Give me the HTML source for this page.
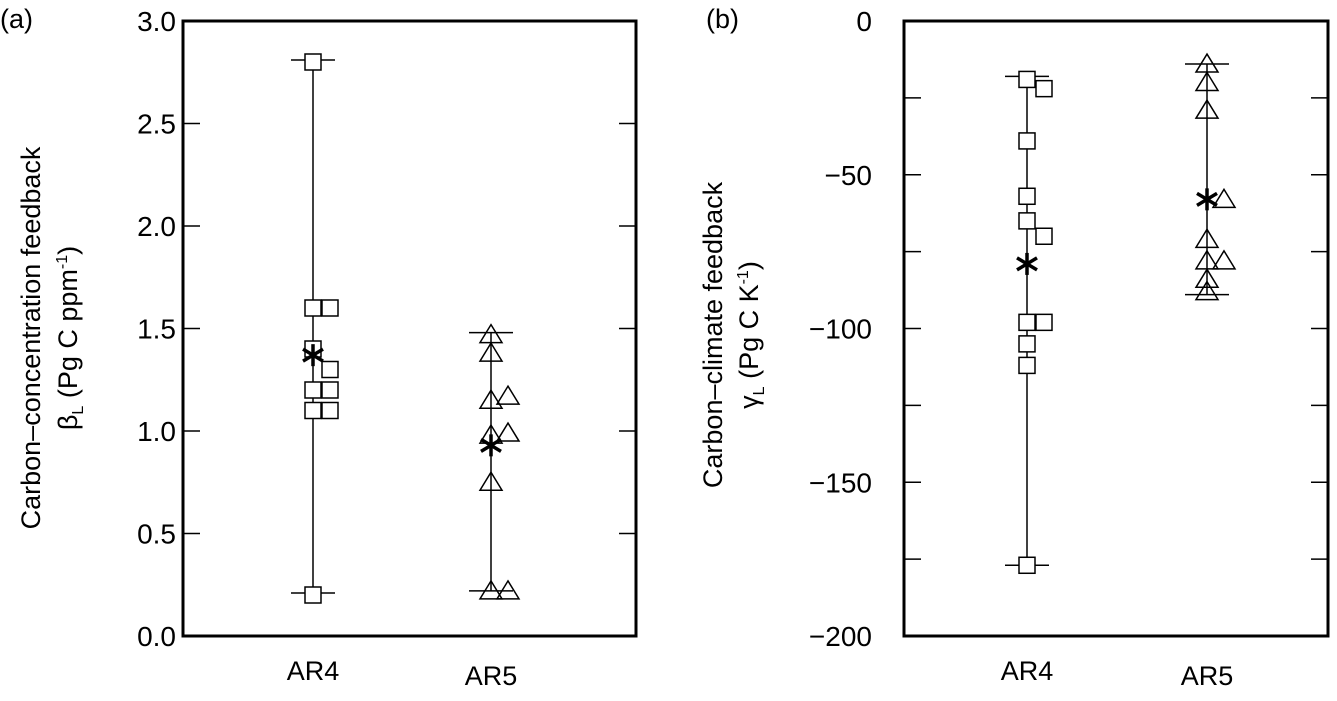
<!DOCTYPE html>
<html><head><meta charset="utf-8"><style>
body{margin:0;background:#fff;}
svg text{font-family:"Liberation Sans",sans-serif;fill:#000;}
</style></head><body>
<svg id="c" width="1337" height="696" viewBox="0 0 1337 696" xmlns="http://www.w3.org/2000/svg"></svg>
<script>
const NS="http://www.w3.org/2000/svg";
const svg=document.getElementById('c');
// Panel (a) data
const aCategories=["AR4","AR5"];
const aAR4=[2.80,1.60,1.60,1.40,1.30,1.20,1.20,1.10,1.10,0.20];
const aAR4Off=[0,0,1,0,1,0,1,0,1,0];
const aAR5=[1.47,1.38,1.15,1.17,0.98,0.99,0.75,0.22,0.22];
const aAR5Off=[0,0,0,1,0,1,0,0,1];
const aMeans=[1.37,0.93];
const aWhiskers=[[2.81,0.21],[1.48,0.22]];
const aTicks=["0.0","0.5","1.0","1.5","2.0","2.5","3.0"];
// Panel (b) data
const bAR4=[-19,-22,-39,-57,-65,-70,-98,-98,-105,-112,-177];
const bAR4Off=[0,1,0,0,0,1,0,1,0,0,0];
const bAR5=[-14,-20,-29,-58,-71,-78,-78,-84,-88];
const bAR5Off=[0,0,0,1,0,0,1,0,0];
const bMeans=[-79,-58];
const bWhiskers=[[-18,-177],[-14,-89]];
const bTicks=["-200","-150","-100","-50","0"];

function el(t,a,p){const e=document.createElementNS(NS,t);for(const k in a)e.setAttribute(k,a[k]);(p||svg).appendChild(e);return e;}

function panel(cfg){
  const g=el('g',{});
  
  
  const y=v=>cfg.y0+(v-cfg.vmin)/(cfg.vmax-cfg.vmin)*(cfg.y1-cfg.y0);
  const b=el('rect',{x:cfg.x0,y:cfg.y1,width:cfg.x1-cfg.x0,height:cfg.y0-cfg.y1,fill:'none',stroke:'#000','stroke-width':3},g);
  
  
  for(let v=cfg.vmin;v<=cfg.vmax+1e-9;v+=cfg.minor){
    const yy=y(v);
    if(v>cfg.vmin+1e-9&&v<cfg.vmax-1e-9){
      el('line',{x1:cfg.x0,x2:cfg.x0+17,y1:yy,y2:yy,stroke:'#000','stroke-width':1.5},g);
      el('line',{x1:cfg.x1-17,x2:cfg.x1,y1:yy,y2:yy,stroke:'#000','stroke-width':1.5},g);
    }
  }
  cfg.ticks.forEach(t=>{
    const v=parseFloat(t);
    const tx=el('text',{x:cfg.x0-cfg.labGap,y:y(v)+10,'text-anchor':'end','font-size':28},g);
    tx.textContent=t.replace('-','\u2212');
    
    
  });
  cfg.cats.forEach((c,i)=>{
    const tx=el('text',{x:cfg.cx[i],y:cfg.labY[i],'text-anchor':'middle','font-size':27},g);
    tx.textContent=c;
    
    
  });
  cfg.series.forEach((s,i)=>{
    const cx=cfg.cx[i];
    const w=cfg.whiskers[i];
    el('line',{x1:cx,x2:cx,y1:y(w[0]),y2:y(w[1]),stroke:'#000','stroke-width':1.5},g);
    w.forEach(v=>el('line',{x1:cx-22,x2:cx+22,y1:y(v),y2:y(v),stroke:'#000','stroke-width':1.5},g));
    s.vals.forEach((v,j)=>{
      const x=cx+s.off[j]*17, yy=y(v);
      let m;
      if(s.shape==='sq') m=el('rect',{x:x-8,y:yy-8,width:16,height:16,fill:'#fff',stroke:'#000','stroke-width':1.5},g);
      else m=el('polygon',{points:`${x},${yy-10} ${x+11},${yy+8} ${x-11},${yy+8}`,fill:'none',stroke:'#000','stroke-width':1.5},g);
      
      
    });
    const my=y(cfg.means[i]);
    const st=el('g',{stroke:'#000','stroke-width':3.5},g);
    
    
    el('line',{x1:cx,x2:cx,y1:my-11,y2:my+11},st);
    el('line',{x1:cx-10,x2:cx+10,y1:my-6,y2:my+6},st);
    el('line',{x1:cx-10,x2:cx+10,y1:my+6,y2:my-6},st);
  });
}
panel({name:'panel-a',x0:183,x1:636,y0:636,y1:21,vmin:0,vmax:3,minor:0.5,ticks:aTicks,labGap:7,
  cats:aCategories,cx:[313,491],labY:[680,685],means:aMeans,whiskers:aWhiskers,
  series:[{vals:aAR4,off:aAR4Off,shape:'sq'},{vals:aAR5,off:aAR5Off,shape:'tr'}]});
panel({name:'panel-b',x0:904,x1:1328,y0:636,y1:21,vmin:-200,vmax:0,minor:25,ticks:bTicks,labGap:32,
  cats:aCategories,cx:[1027,1207],labY:[680,685],means:bMeans,whiskers:bWhiskers,
  series:[{vals:bAR4,off:bAR4Off,shape:'sq'},{vals:bAR5,off:bAR5Off,shape:'tr'}]});
</script>
<svg style="position:absolute;left:0;top:0" width="1337" height="696">
<text x="0" y="28" font-size="27">(a)</text>
<text x="706" y="28" font-size="27">(b)</text>
<text transform="translate(40,338) rotate(-90)" text-anchor="middle" font-size="27">Carbon–concentration feedback</text>
<text transform="translate(77,338) rotate(-90)" text-anchor="middle" font-size="27">β<tspan font-size="16" dy="6">L</tspan><tspan dy="-6"> (Pg C ppm</tspan><tspan font-size="16" dy="-10">-1</tspan><tspan dy="10">)</tspan></text>
<text transform="translate(722,335) rotate(-90)" text-anchor="middle" font-size="27">Carbon–climate feedback</text>
<text transform="translate(758,335) rotate(-90)" text-anchor="middle" font-size="27">γ<tspan font-size="16" dy="6">L</tspan><tspan dy="-6"> (Pg C K</tspan><tspan font-size="16" dy="-10">-1</tspan><tspan dy="10">)</tspan></text>
</svg>
</body></html>
